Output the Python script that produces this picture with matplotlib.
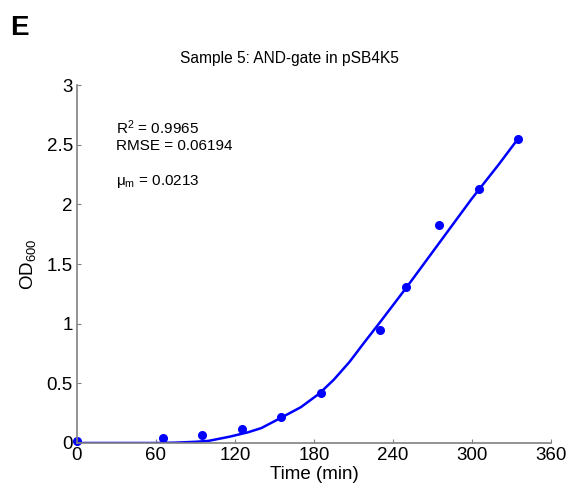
import matplotlib.pyplot as plt

plt.rcParams['font.family'] = ['Liberation Sans', 'DejaVu Sans']
plt.rcParams['mathtext.fontset'] = 'custom'
plt.rcParams['mathtext.rm'] = 'Liberation Sans'
plt.rcParams['mathtext.it'] = 'Liberation Sans'

# measured points
t_data = [0, 65, 95, 125, 155, 185, 230, 250, 275, 305, 335]
od_data = [0.02, 0.04, 0.067, 0.12, 0.22, 0.42, 0.95, 1.31, 1.83, 2.13, 2.55]

# fitted curve
t_fit = [0, 60, 75, 90, 100, 116, 130, 140, 154, 170, 184, 195, 207, 218, 230,
         240, 250, 260, 280, 300, 320, 335]
od_fit = [0.0, 0.0, 0.003, 0.01, 0.018, 0.053, 0.09, 0.125, 0.206, 0.30, 0.414,
          0.53, 0.68, 0.84, 1.01, 1.155, 1.30, 1.45, 1.75, 2.05, 2.33, 2.55]

xticks = [0, 60, 120, 180, 240, 300, 360]
yticks = [0, 0.5, 1, 1.5, 2, 2.5, 3]
yticklabels = ['0', '0.5', '1', '1.5', '2', '2.5', '3']

fig = plt.figure(figsize=(5.69, 4.92), dpi=100)
ax = fig.add_axes([0.1353, 0.0996, 0.8331, 0.7276])

ax.plot(t_fit, od_fit, color='#0000ff', lw=1.8)
ax.plot(t_data, od_data, 'o', color='#0000ff', ms=5.5, clip_on=False)

ax.set_xlim(0, 360)
ax.set_ylim(0, 3)
ax.set_xticks(xticks)
ax.set_yticks(yticks)
ax.set_yticklabels(yticklabels)
ax.tick_params(direction='in', length=3, color='#808080', labelsize=13.5, pad=3)
for s in ['top', 'right']:
    ax.spines[s].set_visible(False)
for s in ['left', 'bottom']:
    ax.spines[s].set_color('#808080')
    ax.spines[s].set_linewidth(1.2)

ax.set_xlabel('Time (min)', fontsize=13.5, labelpad=1)
ax.set_ylabel('OD$_{600}$', fontsize=13.5, labelpad=6)
ax.text(0.449, 1.052, 'Sample 5: AND-gate in pSB4K5', fontsize=11.2,
        ha='center', va='bottom', transform=ax.transAxes)

ax.text(30, 2.64, 'R$^2$ = 0.9965', fontsize=11, va='center')
ax.text(30, 2.49, 'RMSE = 0.06194', fontsize=11, va='center')
ax.text(30, 2.19, 'μ$_{\\rm m}$ = 0.0213', fontsize=11, va='center')

fig.text(0.017, 0.943, 'E', fontsize=20, fontweight='bold', va='center')

fig.savefig('out.png', dpi=100)
